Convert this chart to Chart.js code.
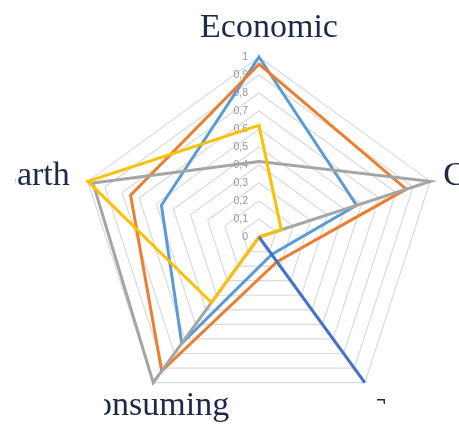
<!DOCTYPE html>
<html>
<head>
<meta charset="utf-8">
<script src="https://cdn.jsdelivr.net/npm/chart.js@4/dist/chart.umd.min.js"></script>
<style>
    html, body { margin: 0; padding: 0; background: #fff; }
    #wrap { width: 459px; height: 431px; }
</style>
</head>
<body>
<div id="wrap"><canvas id="radarChart" width="459" height="431"></canvas></div>
<script>
// Datos del gráfico
const categorias = ['Economic', 'Cost', 'Technical', 'Time consuming', 'Earth'];
const serie1 = [1.00, 0.57, 0.12, 0.73, 0.57];
const serie2 = [0.96, 0.86, 0.17, 0.92, 0.75];
const serie3 = [0.42, 1.00, 0.00, 1.00, 0.97];
const serie4 = [0.62, 0.13, 0.00, 0.45, 1.00];
const serie5 = [0.00, 0.00, 1.00, 0.00, 0.00];
const ticksMin = 0;
const ticksMax = 1;
const ticksPaso = 0.1;

// Estilos
const colores = ['#5B9BD5', '#ED7D31', '#A5A5A5', '#FFC000', '#4472C4'];
// desplazamiento de cada etiqueta respecto a su vértice, alineación y recorte visible
const etiquetaEstilo = [
    { dx: 10, dy: -20, align: 'center', clip: null },
    { dx: 13, dy: 4, align: 'left', clip: null },
    { dx: 0, dy: 38, align: 'left', clip: [377, 397, 385, 404] },
    { dx: 76, dy: 32, align: 'right', clip: [104, 380, 459, 431] },
    { dx: -18, dy: 4, align: 'right', clip: [15, 140, 459, 431] }
];

function formatoTick(v) {
    const r = Math.round(v * 10) / 10;
    return String(r).replace('.', ',');
}

const etiquetas = {
    id: 'etiquetas',
    beforeDatasetsDraw(chart) {
        const r = chart.scales.r;
        const ctx = chart.ctx;
        ctx.save();
        ctx.font = '10.5px "Liberation Sans", Arial, sans-serif';
        ctx.fillStyle = '#979797';
        ctx.textAlign = 'right';
        ctx.textBaseline = 'middle';
        r.ticks.forEach(t => {
            const d = r.getDistanceFromCenterForValue(t.value);
            ctx.fillText(formatoTick(t.value), r.xCenter - 11, r.yCenter - d);
        });
        ctx.restore();
    },
    afterDraw(chart) {
        const r = chart.scales.r;
        const ctx = chart.ctx;
        categorias.forEach((texto, i) => {
            const est = etiquetaEstilo[i];
            const p = r.getPointPosition(i, r.drawingArea);
            ctx.save();
            if (est.clip) {
                const c = est.clip;
                ctx.beginPath();
                ctx.rect(c[0], c[1], c[2] - c[0], c[3] - c[1]);
                ctx.clip();
            }
            ctx.font = '34px "Liberation Serif", "Times New Roman", serif';
            ctx.fillStyle = '#1c2a48';
            ctx.textAlign = est.align;
            ctx.textBaseline = 'alphabetic';
            ctx.fillText(texto, p.x + est.dx, p.y + est.dy);
            ctx.restore();
        });
    }
};

const series = [serie1, serie2, serie3, serie4, serie5];

const config = {
    type: 'radar',
    data: {
        labels: categorias,
        datasets: series.map((valores, i) => ({
            label: 'Serie ' + (i + 1),
            data: valores,
            borderColor: colores[i],
            backgroundColor: 'transparent',
            borderWidth: 3,
            pointRadius: 0,
            fill: false,
            order: series.length - i
        }))
    },
    options: {
        responsive: false,
        animation: false,
        layout: {
            padding: { left: 79, right: 20, top: 57, bottom: 14 }
        },
        plugins: {
            legend: { display: false },
            tooltip: { enabled: false }
        },
        scales: {
            r: {
                min: ticksMin,
                max: ticksMax,
                ticks: { stepSize: ticksPaso, display: false },
                grid: { color: '#dadada', lineWidth: 1.2 },
                angleLines: { display: false },
                pointLabels: { display: false }
            }
        }
    },
    plugins: [etiquetas]
};

new Chart(document.getElementById('radarChart'), config);
</script>
</body>
</html>
